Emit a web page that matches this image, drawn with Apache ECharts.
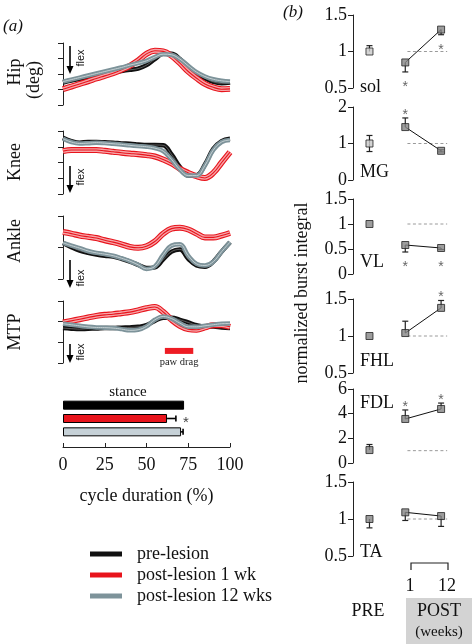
<!DOCTYPE html>
<html><head><meta charset="utf-8">
<script src="https://cdn.jsdelivr.net/npm/echarts@6/dist/echarts.min.js"></script>
<style>html,body{margin:0;padding:0;background:#fff}#c{width:472px;height:644px}</style>
</head><body><div id="c"></div>
<script>
// ---------------- DATA ----------------
const cyclePct = [0,5,10,15,20,25,30,35,40,45,50,55,60,65,70,75,80,85,90,95,100];
const conditions = ['pre-lesion','post-lesion 1 wk','post-lesion 12 wks'];

// joint angles (tick units, flexion downwards)
const hipPre    = [1.45,1.58,1.68,1.79,1.92,2.05,2.14,2.20,2.27,2.35,2.57,2.96,3.30,3.30,2.96,2.48,2.05,1.73,1.49,1.40,1.45];
const hipPost1  = [1.02,1.19,1.36,1.53,1.71,1.88,2.05,2.27,2.53,2.87,3.30,3.50,3.46,3.17,2.70,2.16,1.73,1.36,1.14,1.02,1.04];
const hipPost12 = [1.51,1.64,1.77,1.90,2.03,2.16,2.29,2.42,2.57,2.70,2.85,3.09,3.28,3.24,2.96,2.53,2.12,1.84,1.66,1.56,1.51];

const kneePre    = [3.57,3.36,3.26,3.30,3.30,3.28,3.26,3.21,3.19,3.15,3.11,3.11,3.09,2.51,1.72,1.17,1.19,1.87,2.87,3.36,3.51];
const kneePost1  = [2.72,2.79,2.79,2.79,2.79,2.74,2.68,2.62,2.57,2.53,2.47,2.38,2.19,1.94,1.60,1.34,1.13,1.02,1.34,2.00,2.66];
const kneePost12 = [3.51,3.30,3.21,3.23,3.26,3.23,3.19,3.15,3.09,3.04,3.00,2.91,2.72,2.19,1.55,1.17,1.17,1.81,2.79,3.30,3.43];

const anklePre    = [1.14,1.01,0.90,0.83,0.78,0.74,0.71,0.64,0.55,0.45,0.35,0.37,0.62,0.87,0.94,0.64,0.43,0.39,0.55,0.87,1.17];
const anklePost1  = [1.49,1.44,1.38,1.34,1.30,1.23,1.17,1.10,1.02,0.99,1.04,1.19,1.44,1.60,1.63,1.57,1.44,1.32,1.32,1.38,1.46];
const anklePost12 = [1.15,1.06,0.98,0.89,0.83,0.79,0.74,0.66,0.57,0.45,0.32,0.40,0.77,1.06,1.10,0.74,0.48,0.43,0.55,0.87,1.17];

const mtpPre    = [1.69,1.66,1.64,1.66,1.67,1.69,1.69,1.71,1.72,1.75,1.83,2.04,2.19,2.19,2.09,1.96,1.83,1.77,1.77,1.72,1.69];
const mtpPost1  = [1.96,2.04,2.12,2.20,2.28,2.33,2.36,2.41,2.46,2.55,2.65,2.71,2.47,2.09,1.80,1.64,1.61,1.72,1.83,1.83,1.75];
const mtpPost12 = [1.90,1.85,1.80,1.75,1.72,1.71,1.69,1.64,1.58,1.61,1.77,2.09,2.25,2.15,1.93,1.75,1.75,1.80,1.85,1.90,1.91];

const jointNames = ['Hip','Knee','Ankle','MTP'];
const jointTickMax = [4,4,2,3];
const pawDragPct = [61,78];

// stance duration (% of cycle)
const stanceValues = [72.5,62.3,70.7];
const stanceErr    = [0,5.3,1.2];
const stanceSig    = [0,1,0];
const cycleTicks   = [0,25,50,75,100];

// normalized burst integral
const muscles    = ['sol','MG','VL','FHL','FDL','TA'];
const preMean    = [1.00,1.00,1.00,1.00,1.05,1.00];
const preLo      = [1.00,0.78,1.00,1.00,1.05,0.88];
const preHi      = [1.08,1.22,1.00,1.00,1.50,1.00];
const post1Mean  = [0.85,1.45,0.58,1.04,3.57,1.09];
const post1Lo    = [0.72,1.45,0.44,1.04,3.57,0.98];
const post1Hi    = [0.85,1.70,0.58,1.20,4.30,1.09];
const post12Mean = [1.30,0.80,0.52,1.38,4.38,1.04];
const post12Lo   = [1.23,0.77,0.49,1.38,4.38,0.90];
const post12Hi   = [1.30,0.83,0.52,1.48,4.86,1.04];
const post1Sig   = [-1,1,-1,0,1,0];   // -1 below, 1 above
const post12Sig  = [-1,0,-1,1,1,0];
const muscleYMin = [0.5,0,0,0.5,0,0.5];
const muscleYMax = [1.5,2,1.5,1.5,6,1.5];
const muscleYInt = [0.5,1,0.5,0.5,2,0.5];
const preLevel = 1;
const periodLabels = ['PRE','POST','(weeks)'];
const postWeeks = ['1','12'];

// ---------------- CHART ----------------
const SERIF = "'Liberation Serif','Times New Roman',serif";
const SANS = "'Liberation Sans','DejaVu Sans',Arial,sans-serif";
const chart = echarts.init(document.getElementById('c'), null, {renderer:'canvas'});
const jointData = {Hip:[hipPre,hipPost1,hipPost12], Knee:[kneePre,kneePost1,kneePost12], Ankle:[anklePre,anklePost1,anklePost12], MTP:[mtpPre,mtpPost1,mtpPost12]};
const grids=[], xAxes=[], yAxes=[], series=[];
const axisLineStyle = {show:true, onZero:false, lineStyle:{color:'#222', width:1}};

const jointLayout = [{top:43,height:62},{top:131,height:63},{top:216,height:63},{top:301,height:62}];
const condColor = ['#111111','#e8141c','#7d939a'];
const layerStyles = [
  [{w:4.5,c:'#111111'},{w:0.7,c:'rgba(255,255,255,0.45)'}],
  [{w:6,c:'#e8141c'},{w:3.8,c:'#f6a5a8'},{w:1.1,c:'#e8141c'}],
  [{w:4.5,c:'#7d939a'},{w:1,c:'#c5d0d3'}]
];
jointNames.forEach((jn,j)=>{
  grids.push({left:63, width:167, top:jointLayout[j].top, height:jointLayout[j].height, outerBoundsMode:'none'});
  xAxes.push({gridIndex:j, type:'value', min:0, max:100, show:false});
  yAxes.push({gridIndex:j, type:'value', min:0, max:jointTickMax[j], interval:1,
    axisLine:axisLineStyle, axisTick:{show:true, length:5, lineStyle:{color:'#222'}},
    axisLabel:{show:false}, splitLine:{show:false}});
  jointData[jn].forEach((arr,k)=>{
    layerStyles[k].forEach((ls,l)=>{
      const s = {type:'line', name: l===0 ? conditions[k] : conditions[k]+' layer'+l,
        xAxisIndex:j, yAxisIndex:j, data:cyclePct.map((p,i)=>[p,arr[i]]),
        smooth:0.4, symbol:'none', silent:true, clip:false, color:condColor[k],
        lineStyle:{width:ls.w, color:ls.c}, z:2+k, animation:false};
      if (jn==='MTP' && k===1 && l===0) {
        s.markArea = {silent:true, itemStyle:{color:'#ee1c24'},
          label:{show:true, position:'bottom', distance:3, formatter:'paw drag', fontFamily:SERIF, fontSize:10.5, color:'#222'},
          data:[[{xAxis:pawDragPct[0], yAxis:0.44},{xAxis:pawDragPct[1], yAxis:0.73}]]};
      }
      series.push(s);
    });
  });
});

// stance bars: grid 4
grids.push({left:63, width:167, top:398.5, height:40, outerBoundsMode:'none'});
xAxes.push({gridIndex:4, type:'value', min:0, max:100, interval:25, offset:8.5,
  axisLine:axisLineStyle, axisTick:{show:true, inside:true, length:4, lineStyle:{color:'#222'}},
  axisLabel:{fontFamily:SERIF, fontSize:18, color:'#111', margin:9, formatter:v=>cycleTicks.includes(v)?String(v):''},
  splitLine:{show:false},
  name:'cycle duration (%)', nameLocation:'middle', nameGap:40, nameTextStyle:{fontFamily:SERIF, fontSize:18, color:'#111'}});
yAxes.push({gridIndex:4, type:'category', data:conditions, inverse:true, show:false});
const barFill = ['#000000','#e8141c','#c6d1d7'];
series.push({type:'bar', xAxisIndex:4, yAxisIndex:4, barWidth:9, silent:true, animation:false,
  data:stanceValues.map((v,i)=>({value:v, itemStyle:{color:barFill[i], borderColor:'#000', borderWidth:1}}))});
series.push({type:'custom', xAxisIndex:4, yAxisIndex:4, silent:true, animation:false, z:5,
  data:stanceValues.map((v,i)=>[v,i,stanceErr[i],stanceSig[i]]),
  renderItem:(params,api)=>{
    const v=api.value(0), c=api.value(1), e=api.value(2), sg=api.value(3);
    const p0=api.coord([v,c]), p1=api.coord([v+e,c]);
    const ch=[];
    if (e>0){
      ch.push({type:'line', shape:{x1:p0[0],y1:p0[1],x2:p1[0],y2:p1[1]}, style:{stroke:'#000',lineWidth:1.6}});
      ch.push({type:'line', shape:{x1:p1[0],y1:p1[1]-3,x2:p1[0],y2:p1[1]+3}, style:{stroke:'#000',lineWidth:1.6}});
    }
    if (sg) ch.push({type:'text', x:p1[0]+10, y:p1[1]+4, style:{text:'*', fill:'#444', font:'15px '+SANS, align:'center', verticalAlign:'middle'}});
    return {type:'group', children:ch};
  }});

// right panel
const muscleLayout = [{top:15,height:73},{top:107,height:73},{top:199,height:75},{top:299,height:74},{top:389,height:74},{top:482,height:74}];
const lightPre = ['sol','MG'];
muscles.forEach((mn,m)=>{
  const g = 5+m;
  grids.push({left:353, width:106, top:muscleLayout[m].top, height:muscleLayout[m].height, outerBoundsMode:'none'});
  xAxes.push({gridIndex:g, type:'value', min:-0.46, max:2.5, show:false});
  yAxes.push({gridIndex:g, type:'value', min:muscleYMin[m], max:muscleYMax[m], interval:muscleYInt[m],
    axisLine:axisLineStyle, axisTick:{show:true, length:5, lineStyle:{color:'#222'}},
    axisLabel:{fontFamily:SERIF, fontSize:18, color:'#111', margin:6}, splitLine:{show:false}});
  series.push({type:'line', xAxisIndex:g, yAxisIndex:g, silent:true, animation:false, symbol:'none', z:1,
    data:[[1.06,preLevel],[2.17,preLevel]], lineStyle:{color:'#9a9a9a', width:1, type:[3,2.5]}});
  series.push({type:'line', xAxisIndex:g, yAxisIndex:g, silent:true, animation:false, symbol:'none', z:2,
    data:[[1,post1Mean[m]],[2,post12Mean[m]]], lineStyle:{color:'#111', width:1}});
  const rows = [[0,preMean[m],preLo[m],preHi[m],0],[1,post1Mean[m],post1Lo[m],post1Hi[m],post1Sig[m]],[2,post12Mean[m],post12Lo[m],post12Hi[m],post12Sig[m]]];
  series.push({type:'custom', xAxisIndex:g, yAxisIndex:g, silent:true, animation:false, z:3, data:rows,
    renderItem:(params,api)=>{
      const x=api.value(0), mu=api.value(1), lo=api.value(2), hi=api.value(3), sg=api.value(4);
      const pm=api.coord([x,mu]), pl=api.coord([x,lo]), ph=api.coord([x,hi]);
      const ch=[]; const st={stroke:'#222', lineWidth:1.2};
      if (hi>mu){ ch.push({type:'line', shape:{x1:pm[0],y1:pm[1],x2:ph[0],y2:ph[1]}, style:st});
        ch.push({type:'line', shape:{x1:ph[0]-3,y1:ph[1],x2:ph[0]+3,y2:ph[1]}, style:st}); }
      if (lo<mu){ ch.push({type:'line', shape:{x1:pm[0],y1:pm[1],x2:pl[0],y2:pl[1]}, style:st});
        ch.push({type:'line', shape:{x1:pl[0]-3,y1:pl[1],x2:pl[0]+3,y2:pl[1]}, style:st}); }
      const yEnd = sg>0 ? Math.min(ph[1], pm[1]-4) : Math.max(pl[1], pm[1]+4);
      if (sg>0) ch.push({type:'text', x:ph[0], y:yEnd-7+4, style:{text:'*', fill:'#666', font:'14px '+SANS, align:'center', verticalAlign:'middle'}});
      if (sg<0) ch.push({type:'text', x:pl[0], y:yEnd+11+4, style:{text:'*', fill:'#666', font:'14px '+SANS, align:'center', verticalAlign:'middle'}});
      return {type:'group', children:ch};
    }});
  series.push({type:'scatter', xAxisIndex:g, yAxisIndex:g, silent:true, animation:false, z:4, symbol:'rect', symbolSize:7,
    data:[[0,preMean[m]],[1,post1Mean[m]],[2,post12Mean[m]]].map((d,i)=>({value:d,
      itemStyle:{color: i===0 && lightPre.includes(mn) ? '#c9c9c9' : '#858585', borderColor:'#222', borderWidth:1}}))});
});

// ---------------- ANNOTATIONS ----------------
function txt(x,y,text,size,opts){
  opts = opts||{};
  return {type:'text', x:x, y:y, rotation:opts.rot||0, silent:true, z:100,
    style:{text:text, fill:opts.color||'#111', font:(opts.italic?'italic ':'')+size+'px '+(opts.family||SERIF),
      align:opts.align||'center', verticalAlign:'middle', textAlign:opts.align||'center', textVerticalAlign:'middle'}};
}
function arrow(x,y1,y2){
  return [{type:'line', silent:true, shape:{x1:x,y1:y1,x2:x,y2:y2-5}, style:{stroke:'#000', lineWidth:1.6}},
          {type:'polygon', silent:true, shape:{points:[[x-3.5,y2-8],[x+3.5,y2-8],[x,y2]]}, style:{fill:'#000'}}];
}
const R = Math.PI/2;
const graphics = [
  txt(3,27,'(a)',17,{italic:true, align:'left'}),
  txt(293,13,'(b)',17,{italic:true}),
  txt(15,72,'Hip',18,{rot:R}), txt(34,80,'(deg)',18,{rot:R}),
  txt(15,162,jointNames[1],18,{rot:R}), txt(15,241,jointNames[2],18,{rot:R}), txt(15,332,jointNames[3],18,{rot:R}),
  ...arrow(70,46,74), txt(81,58,'flex',11,{rot:R, family:SANS}),
  ...arrow(70,166,193), txt(81,177,'flex',11,{rot:R, family:SANS}),
  ...arrow(70,260,288), txt(81,278,'flex',11,{rot:R, family:SANS}),
  ...arrow(70,344,363), txt(81,352,'flex',11,{rot:R, family:SANS}),
  txt(128,392,'stance',15),
  txt(302,293,'normalized burst integral',18,{rot:R}),
  txt(360,87,muscles[0],18,{align:'left'}), txt(360,172,muscles[1],18,{align:'left'}),
  txt(360,262,muscles[2],18,{align:'left'}), txt(360,361,muscles[3],18,{align:'left'}),
  txt(360,403,muscles[4],18,{align:'left'}), txt(360,552,muscles[5],18,{align:'left'}),
  {type:'polyline', silent:true, shape:{points:[[411,570],[411,563],[448,563],[448,570]]}, style:{stroke:'#222', lineWidth:1.2, fill:null}},
  txt(410,586,postWeeks[0],18), txt(447,586,postWeeks[1],18),
  {type:'rect', silent:true, z:0, shape:{x:406,y:598,width:66,height:46}, style:{fill:'#d3d3d3'}},
  txt(368,611,periodLabels[0],18), txt(439,611,periodLabels[1],18), txt(439,632,periodLabels[2],15)
];

chart.setOption({
  animation:false,
  backgroundColor:'#fff',
  textStyle:{fontFamily:SERIF},
  grid:grids, xAxis:xAxes, yAxis:yAxes, series:series,
  legend:{orient:'vertical', left:85, top:540, itemWidth:32, itemHeight:5, itemGap:3, icon:'rect', selectedMode:false,
    data:conditions.map((c,i)=>({name:c, itemStyle:{color:condColor[i]}})),
    textStyle:{fontFamily:SERIF, fontSize:18, color:'#111', padding:[0,0,0,10]}},
  graphic:graphics
});
</script></body></html>
